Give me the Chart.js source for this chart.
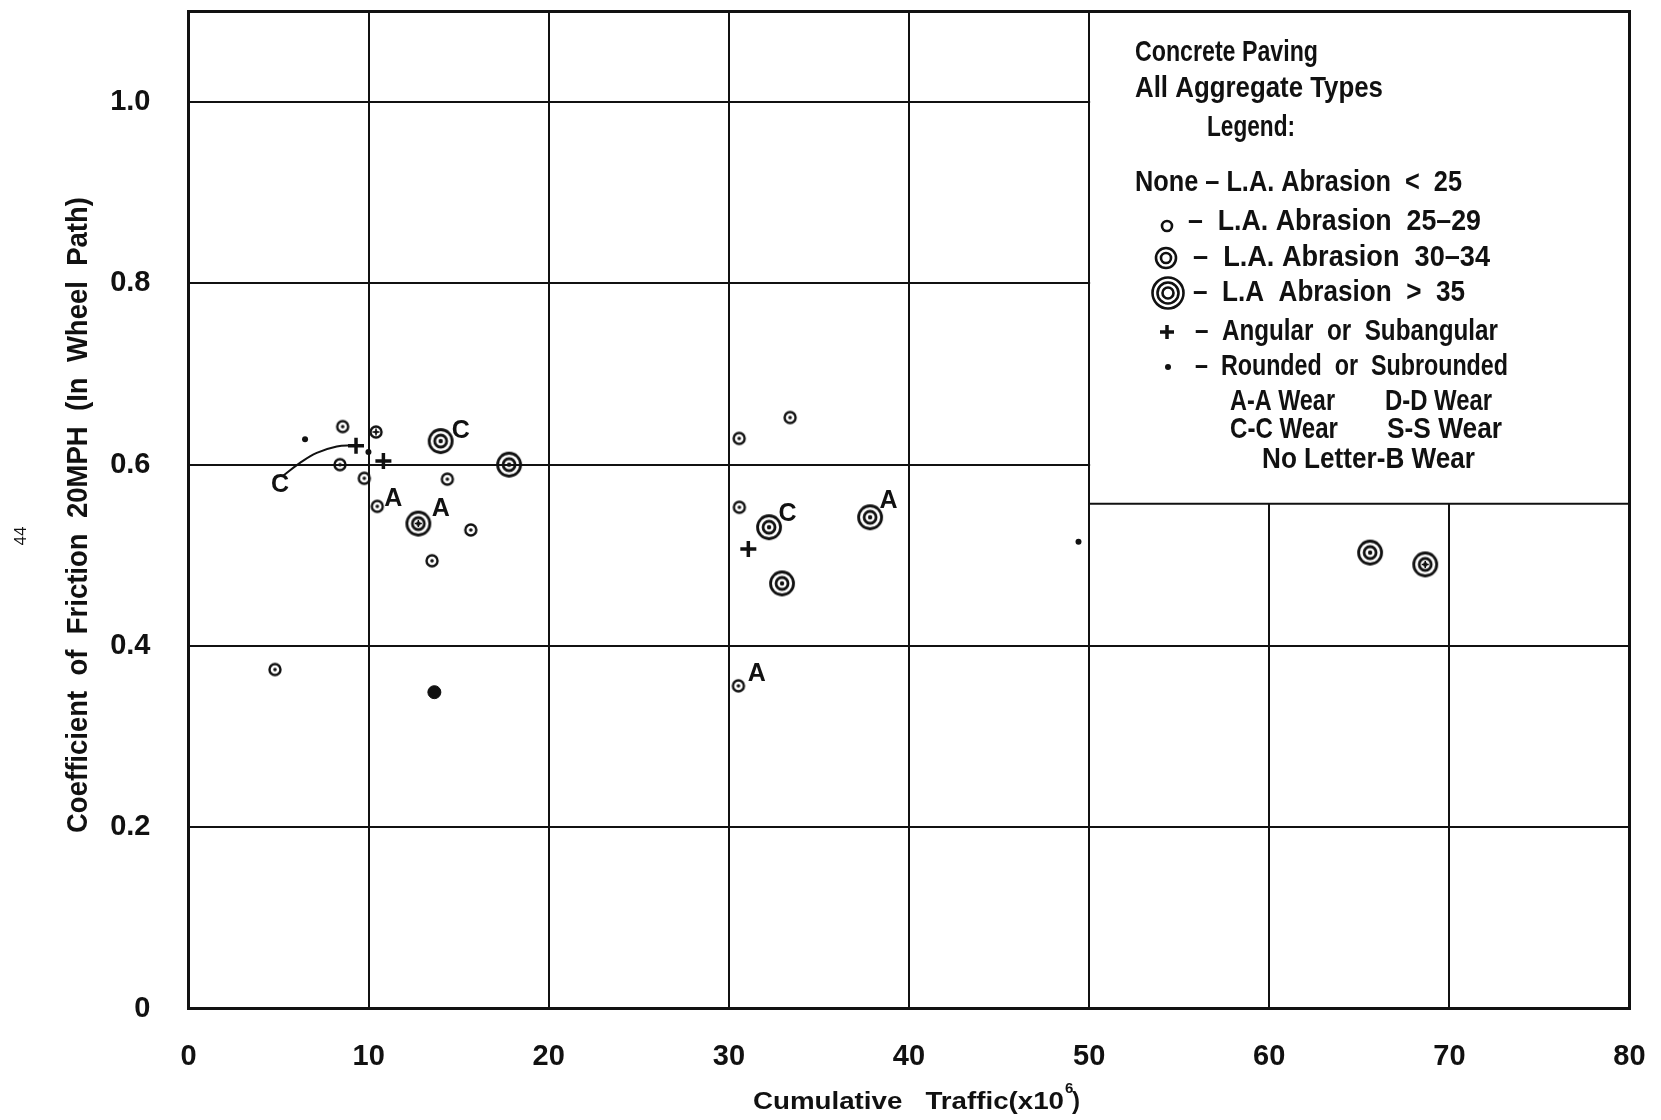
<!DOCTYPE html>
<html>
<head>
<meta charset="utf-8">
<title>Coefficient of Friction vs Cumulative Traffic</title>
<script src="https://cdn.jsdelivr.net/npm/chart.js@4.4.0/dist/chart.umd.min.js"></script>
<style>
  html, body { margin: 0; padding: 0; background: #fff; }
  #wrap { width: 1661px; height: 1120px; }
</style>
</head>
<body>
<div id="wrap"><canvas id="frictionChart"></canvas></div>
<script>
// axis ticks
const trafficTicks = [0, 10, 20, 30, 40, 50, 60, 70, 80];
const frictionTicks = [0, 0.2, 0.4, 0.6, 0.8, 1.0];
const frictionTickLabels = ['0', '0.2', '0.4', '0.6', '0.8', '1.0'];

// L.A. Abrasion 25-29 (single ring)
const ringTraffic  = [8.56, 10.41, 8.41, 9.76, 10.48, 14.37, 15.67, 13.52, 4.80, 33.40, 30.57, 30.58, 30.53];
const ringFriction = [0.642, 0.636, 0.600, 0.585, 0.554, 0.584, 0.528, 0.494, 0.374, 0.652, 0.629, 0.553, 0.356];
// L.A. Abrasion 30-34 (double ring)
const doubleTraffic  = [12.76, 14.00, 17.80, 32.23, 32.95, 37.84, 65.60, 68.66];
const doubleFriction = [0.535, 0.626, 0.600, 0.531, 0.469, 0.542, 0.503, 0.490];
// inked-in ring
const filledTraffic  = [13.65];
const filledFriction = [0.349];
// small crosses drawn inside some rings
const innerCrossTraffic  = [10.41, 12.76, 68.66];
const innerCrossFriction = [0.636, 0.535, 0.490];
// Angular or Subangular
const angularTraffic  = [9.30, 10.82, 31.08];
const angularFriction = [0.621, 0.604, 0.507];
// Rounded or Subrounded
const roundedTraffic  = [6.47, 9.99, 49.41];
const roundedFriction = [0.628, 0.614, 0.515];
// C-C wear curve
const curveTraffic  = [5.27, 6.19, 7.12, 8.23, 9.15];
const curveFriction = [0.588, 0.602, 0.613, 0.620, 0.6215];
// wear letters
const wearLetters  = ['C', 'A', 'A', 'C', 'C', 'A', 'A'];
const wearTraffic  = [5.08, 11.37, 14.00, 15.11, 33.25, 38.86, 31.55];
const wearFriction = [0.577, 0.562, 0.551, 0.637, 0.546, 0.560, 0.3685];

const legendBoxFloor = 0.557; // legend box bottom edge (friction value)

const INK = '#111';
const FONT = '"Liberation Sans", Arial, sans-serif';

const toPoints = (xs, ys) => xs.map((x, i) => ({ x: x, y: ys[i] }));

// ring marker images
function ringImage(radii, dot, lw) {
    const size = Math.ceil(radii[0] * 2 + lw + 2);
    const c = document.createElement('canvas');
    c.width = size; c.height = size;
    const g = c.getContext('2d');
    g.strokeStyle = INK;
    g.lineWidth = lw;
    radii.forEach(r => {
        g.beginPath();
        g.arc(size / 2, size / 2, r, 0, Math.PI * 2);
        g.stroke();
    });
    if (dot) {
        g.fillStyle = INK;
        g.beginPath();
        g.arc(size / 2, size / 2, dot, 0, Math.PI * 2);
        g.fill();
    }
    return c;
}
const singleRing = ringImage([5.5], 1.8, 2.4);
const doubleRing = ringImage([11.5, 6], 2.2, 2.8);

// draws text squeezed/stretched to a given width
function fitText(ctx, text, x, y, size, width, opts) {
    opts = opts || {};
    ctx.save();
    ctx.font = (opts.weight || 'bold') + ' ' + size + 'px ' + FONT;
    ctx.fillStyle = INK;
    ctx.textBaseline = 'middle';
    ctx.textAlign = opts.align || 'left';
    const w = ctx.measureText(text).width;
    const sx = width ? width / w : 1;
    ctx.translate(x, y);
    if (opts.rotate) ctx.rotate(opts.rotate);
    ctx.scale(sx, 1);
    ctx.fillText(text, 0, 0);
    ctx.restore();
}

function circle(ctx, x, y, r, fill) {
    ctx.beginPath();
    ctx.arc(x, y, r, 0, Math.PI * 2);
    if (fill) ctx.fill(); else ctx.stroke();
}

const paperPlugin = {
    id: 'paper',
    beforeDraw(chart) {
        const ctx = chart.ctx;
        ctx.save();
        ctx.fillStyle = '#fff';
        ctx.fillRect(0, 0, chart.width, chart.height);
        ctx.restore();
    },
    beforeDatasetsDraw(chart) {
        const ctx = chart.ctx;
        const a = chart.chartArea;
        const xs = chart.scales.x, ys = chart.scales.y;
        const bx = xs.getPixelForValue(50);
        const by = ys.getPixelForValue(legendBoxFloor);
        ctx.save();
        // legend box covers the grid
        ctx.fillStyle = '#fff';
        ctx.fillRect(bx + 1, a.top, a.right - bx - 1, by - a.top);
        ctx.strokeStyle = INK;
        ctx.lineWidth = 2;
        ctx.beginPath();
        ctx.moveTo(bx, by);
        ctx.lineTo(a.right, by);
        ctx.stroke();
        // frame
        ctx.lineWidth = 3;
        ctx.strokeRect(a.left, a.top, a.right - a.left, a.bottom - a.top);
        ctx.restore();
    },
    afterDatasetsDraw(chart) {
        const ctx = chart.ctx;
        const xs = chart.scales.x, ys = chart.scales.y;

        // wear letters next to points
        wearLetters.forEach((t, i) => {
            fitText(ctx, t, xs.getPixelForValue(wearTraffic[i]), ys.getPixelForValue(wearFriction[i]),
                25, null, { align: 'center' });
        });

        // axis titles
        fitText(ctx, 'Coefficient  of  Friction  20MPH  (In  Wheel  Path)', 79, 515, 30, 636,
            { align: 'center', rotate: -Math.PI / 2 });
        fitText(ctx, 'Cumulative   Traffic(x10', 753, 1102, 24, 311);
        fitText(ctx, '6', 1065, 1089, 15, null);
        fitText(ctx, ')', 1072, 1102, 24, null);
        fitText(ctx, '44', 21, 536, 17, null, { align: 'center', rotate: -Math.PI / 2, weight: 'normal' });

        // legend text
        const lines = [
            ['Concrete Paving', 1135, 53, 183],
            ['All Aggregate Types', 1135, 89, 248],
            ['Legend:', 1207, 128, 88],
            ['None \u2013 L.A. Abrasion  <  25', 1135, 183, 327],
            ['\u2013  L.A. Abrasion  25\u201329', 1188, 222, 293],
            ['\u2013  L.A. Abrasion  30\u201334', 1193, 258, 297],
            ['\u2013  L.A  Abrasion  >  35', 1193, 293, 272],
            ['\u2013  Angular  or  Subangular', 1195, 332, 303],
            ['\u2013  Rounded  or  Subrounded', 1195, 367, 313],
            ['A-A Wear', 1230, 402, 105],
            ['D-D Wear', 1385, 402, 107],
            ['C-C Wear', 1230, 430, 108],
            ['S-S Wear', 1387, 430, 115],
            ['No Letter-B Wear', 1262, 460, 213]
        ];
        lines.forEach(l => fitText(ctx, l[0], l[1], l[2], 30, l[3]));

        // legend symbols
        ctx.save();
        ctx.strokeStyle = INK;
        ctx.fillStyle = INK;
        ctx.lineWidth = 2.6;
        circle(ctx, 1167, 226, 5);
        circle(ctx, 1166, 258, 10);
        circle(ctx, 1166, 258, 5);
        circle(ctx, 1168, 293, 15.5);
        circle(ctx, 1168, 293, 10.5);
        circle(ctx, 1168, 293, 5.5);
        ctx.lineWidth = 3.5;
        ctx.beginPath();
        ctx.moveTo(1160, 332); ctx.lineTo(1174, 332);
        ctx.moveTo(1167, 325); ctx.lineTo(1167, 339);
        ctx.stroke();
        circle(ctx, 1168, 367, 3, true);
        ctx.restore();
    }
};

const ctx = document.getElementById('frictionChart');
new Chart(ctx, {
    type: 'scatter',
    data: {
        datasets: [
            {
                label: 'C-C wear curve',
                type: 'line',
                data: toPoints(curveTraffic, curveFriction),
                borderColor: INK,
                borderWidth: 2,
                pointRadius: 0,
                tension: 0.4,
                fill: false
            },
            {
                label: 'L.A. Abrasion 25-29',
                data: toPoints(ringTraffic, ringFriction),
                pointStyle: singleRing
            },
            {
                label: 'L.A. Abrasion 30-34',
                data: toPoints(doubleTraffic, doubleFriction),
                pointStyle: doubleRing
            },
            {
                label: 'inked ring',
                data: toPoints(filledTraffic, filledFriction),
                pointStyle: 'circle',
                pointRadius: 6.5,
                backgroundColor: INK,
                borderColor: INK,
                borderWidth: 1
            },
            {
                label: 'inner cross',
                data: toPoints(innerCrossTraffic, innerCrossFriction),
                pointStyle: 'cross',
                pointRadius: 3.5,
                borderColor: INK,
                borderWidth: 1.5
            },
            {
                label: 'Angular or Subangular',
                data: toPoints(angularTraffic, angularFriction),
                pointStyle: 'cross',
                pointRadius: 8,
                borderColor: INK,
                borderWidth: 3.5
            },
            {
                label: 'Rounded or Subrounded',
                data: toPoints(roundedTraffic, roundedFriction),
                pointStyle: 'circle',
                pointRadius: 3,
                backgroundColor: INK,
                borderColor: INK,
                borderWidth: 0
            }
        ]
    },
    options: {
        responsive: true,
        maintainAspectRatio: false,
        animation: false,
        layout: { padding: { top: 10, right: 31.5, left: 0, bottom: 0 } },
        plugins: {
            legend: { display: false },
            tooltip: { enabled: false }
        },
        scales: {
            x: {
                type: 'linear',
                min: 0,
                max: 80,
                afterBuildTicks: (scale) => { scale.ticks = trafficTicks.map(v => ({ value: v })); },
                afterFit: (scale) => {
                    scale.height = 111.5;
                    scale.paddingLeft = 0; scale.paddingRight = 0;
                    scale.paddingTop = 0; scale.paddingBottom = 0;
                },
                ticks: {
                    color: INK,
                    padding: 31,
                    font: { family: FONT, size: 29, weight: 'bold' },
                    callback: (v) => String(v)
                },
                grid: { color: INK, lineWidth: 2, drawTicks: false },
                border: { display: true, color: INK, width: 3 }
            },
            y: {
                type: 'linear',
                min: 0,
                max: 1.1,
                afterBuildTicks: (scale) => { scale.ticks = frictionTicks.map(v => ({ value: v })); },
                afterFit: (scale) => {
                    scale.width = 188.5;
                    scale.paddingLeft = 0; scale.paddingRight = 0;
                    scale.paddingTop = 0; scale.paddingBottom = 0;
                },
                ticks: {
                    color: INK,
                    padding: 38,
                    font: { family: FONT, size: 29, weight: 'bold' },
                    callback: (v, i) => frictionTickLabels[i]
                },
                grid: { color: INK, lineWidth: 2, drawTicks: false },
                border: { display: true, color: INK, width: 3 }
            }
        }
    },
    plugins: [paperPlugin]
});
</script>
</body>
</html>
